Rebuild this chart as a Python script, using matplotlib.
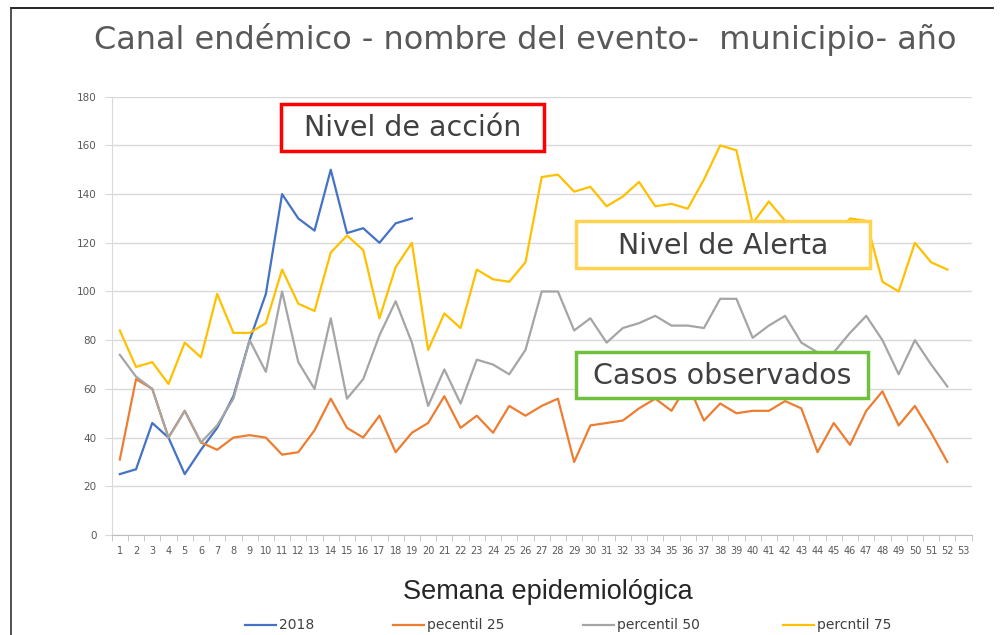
import numpy as np
import matplotlib
matplotlib.use("Agg")
import matplotlib.pyplot as plt
from matplotlib.patches import Rectangle
from matplotlib.lines import Line2D

# -----------------------------
# DATA
# -----------------------------
semanas = list(range(1, 54))

casos_2018 = [25, 27, 46, 40, 25, 35, 44, 57, 80, 99, 140, 130, 125, 150, 124, 126, 120, 128, 130]

percentil_25 = [31, 64, 60, 40, 51, 38, 35, 40, 41, 40, 33, 34, 43, 56, 44, 40, 49, 34, 42,
                46, 57, 44, 49, 42, 53, 49, 53, 56, 30, 45, 46, 47, 52, 56, 51, 62, 47, 54,
                50, 51, 51, 55, 52, 34, 46, 37, 51, 59, 45, 53, 42, 30]

percentil_50 = [74, 65, 60, 40, 51, 38, 45, 56, 80, 67, 100, 71, 60, 89, 56, 64, 82, 96, 79,
                53, 68, 54, 72, 70, 66, 76, 100, 100, 84, 89, 79, 85, 87, 90, 86, 86, 85, 97,
                97, 81, 86, 90, 79, 75, 75, 83, 90, 80, 66, 80, 70, 61]

percentil_75 = [84, 69, 71, 62, 79, 73, 99, 83, 83, 87, 109, 95, 92, 116, 123, 117, 89, 110, 120,
                76, 91, 85, 109, 105, 104, 112, 147, 148, 141, 143, 135, 139, 145, 135, 136, 134, 146, 160,
                158, 128, 137, 129, 124, 120, 122, 130, 129, 104, 100, 120, 112, 109]

series_names = ["2018", "pecentil 25", "percentil 50", "percntil 75"]
series_colors = ["#4472C4", "#ED7D31", "#A5A5A5", "#FFC000"]

W, H = 1003, 635


def fx(px):
    return px / W


def fy(py):
    return 1 - py / H


# -----------------------------
# PLOT
# -----------------------------
fig = plt.figure(figsize=(W / 100, H / 100), dpi=100)
ax = fig.add_axes([fx(111.7), fy(535), fx(971.7) - fx(111.7), fy(96.7) - fy(535)])

all_series = [casos_2018, percentil_25, percentil_50, percentil_75]
for vals, name, col in zip(all_series, series_names, series_colors):
    ax.plot(semanas[:len(vals)], vals, color=col, lw=1.6, label=name, zorder=3)

ax.set_xlim(0.5, 53.5)
ax.set_ylim(0, 180)
ax.set_yticks(np.arange(0, 181, 20))
ax.set_xticks(semanas)
ax.set_xticklabels([str(s) for s in semanas])
ax.set_xticks(np.arange(0.5, 54, 1), minor=True)

ax.grid(axis="y", color="#D9D9D9", lw=1)
ax.set_axisbelow(True)
for s in ["top", "right"]:
    ax.spines[s].set_visible(False)
ax.spines["left"].set_color("#D9D9D9")
ax.spines["bottom"].set_color("#BFBFBF")
ax.tick_params(axis="y", length=5, color="#D9D9D9", labelsize=7.5, labelcolor="#595959", pad=6)
ax.tick_params(axis="x", which="major", length=0, labelsize=7, labelcolor="#595959", pad=8)
ax.tick_params(axis="x", which="minor", length=4, color="#BFBFBF")

# titles
fig.text(fx(525), fy(40), "Canal endémico - nombre del evento-  municipio- año",
         ha="center", va="center", fontsize=23, color="#595959", family="DejaVu Sans")
fig.text(fx(548), fy(592), "Semana epidemiológica", ha="center", va="center",
         fontsize=19.5, color="#262626", family="Liberation Sans")

# annotation boxes
boxes = [
    (281, 104, 544, 151, "#FF0000", "Nivel de acción"),
    (576, 221, 870, 268, "#FFD34F", "Nivel de Alerta"),
    (576, 352, 868, 398, "#70C040", "Casos observados"),
]
for x0, y0, x1, y1, col, txt in boxes:
    fig.patches.append(Rectangle((fx(x0), fy(y1)), fx(x1) - fx(x0), fy(y0) - fy(y1),
                                 transform=fig.transFigure, facecolor="white",
                                 edgecolor=col, lw=2.5, zorder=5))
    fig.text(fx((x0 + x1) / 2), fy((y0 + y1) / 2 + 1), txt, ha="center", va="center",
             fontsize=20.5, color="#404040", family="DejaVu Sans", zorder=6)

# legend
leg_x = [245, 393, 583, 783]
for x, name, col in zip(leg_x, series_names, series_colors):
    fig.lines.append(Line2D([fx(x), fx(x + 31)], [fy(625), fy(625)], color=col, lw=1.6,
                            transform=fig.transFigure))
    fig.text(fx(x + 34), fy(625), name, ha="left", va="center", fontsize=10,
             color="#404040")

# outer frame (top and left)
fig.lines.append(Line2D([fx(11), fx(993)], [fy(8), fy(8)], color="black", lw=1.2,
                        transform=fig.transFigure))
fig.lines.append(Line2D([fx(11), fx(11)], [fy(8), fy(635)], color="#333333", lw=1.2,
                        transform=fig.transFigure))

fig.savefig("out.png", dpi=100)
